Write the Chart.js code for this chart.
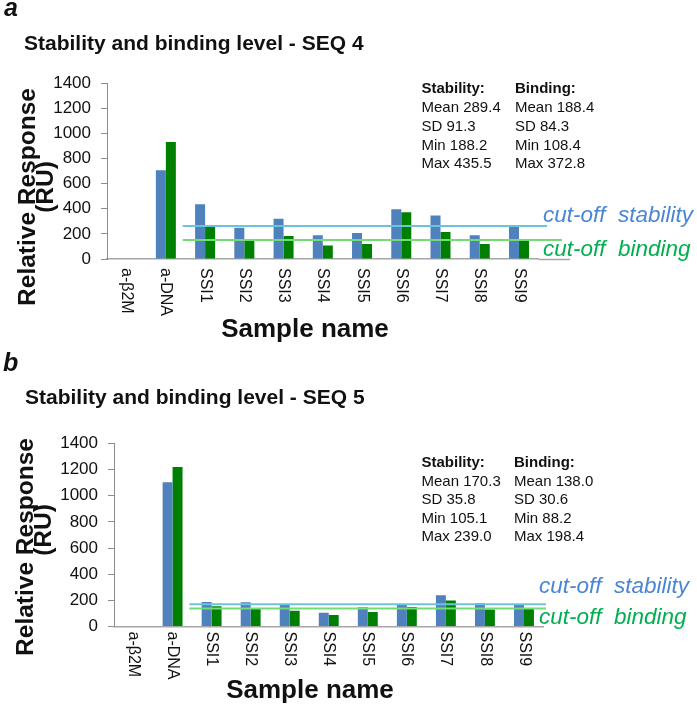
<!DOCTYPE html>
<html>
<head>
<meta charset="utf-8">
<script src="https://cdn.jsdelivr.net/npm/chart.js@4.4.0/dist/chart.umd.min.js"></script>
<style>
    html, body { margin: 0; padding: 0; background: #fff; }
    #wrap { position: relative; width: 697px; height: 709px; }
    canvas { position: absolute; left: 0; }
    #chartA { top: 0; }
    #chartB { top: 345px; }
</style>
</head>
<body>
<div id="wrap">
    <canvas id="chartA" width="697" height="345"></canvas>
    <canvas id="chartB" width="697" height="364"></canvas>
</div>
<script>
// Categorias e valores
const samples = ['a-β2M', 'a-DNA', 'SSI1', 'SSI2', 'SSI3', 'SSI4', 'SSI5', 'SSI6', 'SSI7', 'SSI8', 'SSI9'];
const yTicks = [0, 200, 400, 600, 800, 1000, 1200, 1400];

const seq4Stability = [0, 705, 435, 249, 321, 188, 207, 395, 347, 189, 262];
const seq4Binding = [0, 930, 257, 151, 183, 108, 120, 372, 215, 119, 157];
const seq4CutoffStability = 263;
const seq4CutoffBinding = 152;
const seq4StabilityStats = ['Mean 289.4', 'SD 91.3', 'Min 188.2', 'Max 435.5'];
const seq4BindingStats = ['Mean 188.4', 'SD 84.3', 'Min 108.4', 'Max 372.8'];

const seq5Stability = [0, 1103, 187, 185, 164, 105, 147, 167, 239, 177, 170];
const seq5Binding = [0, 1220, 154, 136, 121, 88, 111, 149, 198, 131, 136];
const seq5CutoffStability = 170.3;
const seq5CutoffBinding = 138.0;
const seq5StabilityStats = ['Mean 170.3', 'SD 35.8', 'Min 105.1', 'Max 239.0'];
const seq5BindingStats = ['Mean 138.0', 'SD 30.6', 'Min 88.2', 'Max 198.4'];

const FONT = '"Liberation Sans", Arial, sans-serif';
const BLUE = '#4F81BD';
const GREEN = '#008000';

function extrasPlugin(p) {
    return {
        id: 'extras',
        afterDatasetsDraw(chart) {
            const ctx = chart.ctx;
            const x = chart.scales.x;
            const y = chart.scales.y;
            const area = chart.chartArea;
            const step = x.getPixelForValue(1) - x.getPixelForValue(0);
            const x0 = x.getPixelForValue(1) + step * 0.43;

            ctx.save();
            // eixo x prolongado
            if (p.axisExtra) {
                ctx.strokeStyle = '#a6a6a6';
                ctx.lineWidth = 1.5;
                ctx.beginPath();
                ctx.moveTo(area.right, area.bottom + 0.5);
                ctx.lineTo(area.right + p.axisExtra, area.bottom + 0.5);
                ctx.stroke();
            }
            // linhas de cut-off
            ctx.lineWidth = 2;
            ctx.strokeStyle = '#6cc3dc';
            let yy = y.getPixelForValue(p.cutStab);
            ctx.beginPath();
            ctx.moveTo(x0, yy);
            ctx.lineTo(area.right + p.stabEnd, yy);
            ctx.stroke();
            ctx.strokeStyle = '#74dc74';
            yy = y.getPixelForValue(p.cutBind);
            ctx.beginPath();
            ctx.moveTo(x0, yy);
            ctx.lineTo(area.right + p.bindEnd, yy);
            ctx.stroke();
            ctx.restore();
        },
        afterDraw(chart) {
            const ctx = chart.ctx;
            const x = chart.scales.x;
            const area = chart.chartArea;
            ctx.save();
            ctx.fillStyle = '#111';

            // rótulos do eixo x (girados no sentido horário)
            ctx.font = '16px ' + FONT;
            ctx.textAlign = 'left';
            ctx.textBaseline = 'middle';
            samples.forEach(function(s, i) {
                ctx.save();
                ctx.translate(x.getPixelForValue(i), area.bottom + p.labelGap);
                ctx.rotate(Math.PI / 2);
                ctx.fillText(s, 0, 0);
                ctx.restore();
            });

            // letra do painel
            ctx.textBaseline = 'alphabetic';
            ctx.font = 'italic bold 25px ' + FONT;
            ctx.fillText(p.letter, p.letterX, p.letterY);

            // título
            ctx.font = 'bold 21px ' + FONT;
            ctx.fillText(p.title, p.titleX, p.titleY);

            // título do eixo y
            ctx.font = 'bold 24.5px ' + FONT;
            ctx.textAlign = 'center';
            ctx.textBaseline = 'middle';
            ctx.save();
            ctx.translate(p.yTitleX, p.yTitleY);
            ctx.rotate(-Math.PI / 2);
            ctx.fillText('Relative Response', 0, 0);
            ctx.restore();
            ctx.save();
            ctx.translate(p.yTitleX + 18, p.yTitleY2);
            ctx.rotate(-Math.PI / 2);
            ctx.fillText('(RU)', 0, 0);
            ctx.restore();

            // título do eixo x
            ctx.textBaseline = 'alphabetic';
            ctx.font = 'bold 26px ' + FONT;
            ctx.fillText('Sample name', p.xTitleX, p.xTitleY);

            // estatísticas
            ctx.textAlign = 'left';
            ctx.textBaseline = 'middle';
            ctx.font = 'bold 15px ' + FONT;
            ctx.fillText('Stability:', p.statsX1, p.statsY);
            ctx.fillText('Binding:', p.statsX2, p.statsY);
            ctx.font = '15px ' + FONT;
            p.stabStats.forEach(function(t, i) {
                ctx.fillText(t, p.statsX1, p.statsY + (i + 1) * p.statsGap);
            });
            p.bindStats.forEach(function(t, i) {
                ctx.fillText(t, p.statsX2, p.statsY + (i + 1) * p.statsGap);
            });

            // legendas das linhas de cut-off
            ctx.textBaseline = 'alphabetic';
            ctx.font = 'italic 22.5px ' + FONT;
            ctx.fillStyle = '#4a86d6';
            ctx.fillText('cut-off  stability', p.cutTextX, p.cutStabY);
            ctx.fillStyle = '#00b050';
            ctx.fillText('cut-off  binding', p.cutTextX, p.cutBindY);
            ctx.restore();
        }
    };
}

function makeChart(id, stability, binding, geo, p) {
    return new Chart(document.getElementById(id), {
        type: 'bar',
        data: {
            labels: samples,
            datasets: [{
                label: 'Stability',
                data: stability,
                backgroundColor: BLUE,
                borderWidth: 0
            }, {
                label: 'Binding',
                data: binding,
                backgroundColor: GREEN,
                borderWidth: 0
            }]
        },
        options: {
            responsive: false,
            animation: false,
            categoryPercentage: 0.51,
            barPercentage: 1.0,
            layout: {
                padding: { top: geo.top, right: geo.right, bottom: 0, left: 0 }
            },
            plugins: {
                legend: { display: false },
                tooltip: { enabled: false }
            },
            scales: {
                x: {
                    grid: { display: false },
                    border: { display: true, color: '#a6a6a6', width: 1.5 },
                    ticks: { display: false },
                    afterFit: function(s) { s.height = geo.xHeight; }
                },
                y: {
                    min: 0,
                    max: 1400,
                    afterBuildTicks: function(s) {
                        s.ticks = yTicks.map(function(v) { return { value: v }; });
                    },
                    grid: {
                        drawOnChartArea: false,
                        drawTicks: true,
                        tickLength: 6,
                        tickColor: '#8c8c8c'
                    },
                    border: { display: true, color: '#8c8c8c', width: 1 },
                    ticks: {
                        padding: 10,
                        color: '#111',
                        font: { family: FONT, size: 17 },
                        callback: function(v) { return String(v); }
                    },
                    afterFit: function(s) { s.width = geo.yWidth; }
                }
            }
        },
        plugins: [extrasPlugin(p)]
    });
}

makeChart('chartA', seq4Stability, seq4Binding,
    { top: 83, right: 158.4, xHeight: 86, yWidth: 107 },
    {
        letter: 'a', letterX: 4, letterY: 16,
        title: 'Stability and binding level - SEQ 4', titleX: 24, titleY: 50,
        yTitleX: 28, yTitleY: 197, yTitleY2: 187,
        xTitleX: 305, xTitleY: 337,
        statsX1: 421.5, statsX2: 515, statsY: 89, statsGap: 18.8,
        stabStats: seq4StabilityStats, bindStats: seq4BindingStats,
        cutTextX: 543, cutStabY: 222, cutBindY: 255.5,
        cutStab: seq4CutoffStability, cutBind: seq4CutoffBinding,
        stabEnd: 8.5, bindEnd: 23.5, axisExtra: 31.5, labelGap: 9
    });

makeChart('chartB', seq5Stability, seq5Binding,
    { top: 98.5, right: 153.5, xHeight: 82.5, yWidth: 114 },
    {
        letter: 'b', letterX: 3, letterY: 26,
        title: 'Stability and binding level - SEQ 5', titleX: 25, titleY: 59,
        yTitleX: 26, yTitleY: 202, yTitleY2: 185,
        xTitleX: 310, xTitleY: 353,
        statsX1: 421.5, statsX2: 514, statsY: 118.3, statsGap: 18.5,
        stabStats: seq5StabilityStats, bindStats: seq5BindingStats,
        cutTextX: 539, cutStabY: 248, cutBindY: 279,
        cutStab: seq5CutoffStability, cutBind: seq5CutoffBinding,
        stabEnd: 2.5, bindEnd: 2.5, axisExtra: 0, labelGap: 5
    });
</script>
</body>
</html>
